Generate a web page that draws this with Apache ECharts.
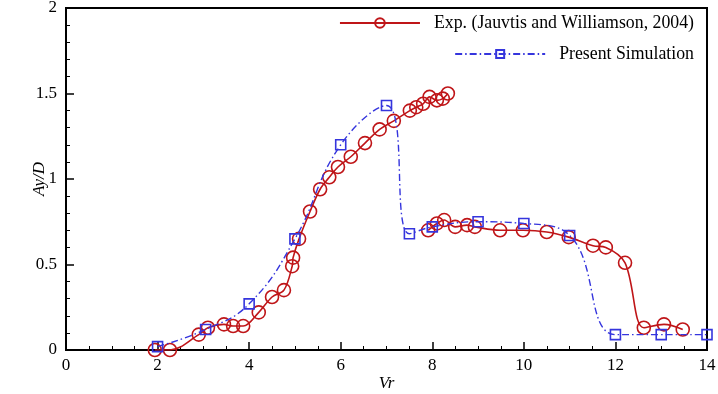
<!DOCTYPE html>
<html>
<head>
<meta charset="utf-8">
<script src="https://cdn.jsdelivr.net/npm/echarts@6/dist/echarts.min.js"></script>
<style>html,body{margin:0;padding:0;background:#fff}#c{width:718px;height:394px}</style>
</head>
<body>
<div id="c"></div>
<script>
// Experimental data (Jauvtis and Williamson, 2004) - upper branch
var expVr1 = [1.94,2.27,2.90,3.10,3.45,3.65,3.87,4.21,4.50,4.76,4.94,4.96,5.09,5.33,5.55,5.75,5.94,6.22,6.53,6.85,7.16,7.51,7.65,7.80,7.94,8.10,8.23,8.34];
var expAy1 = [0.00,0.00,0.09,0.13,0.15,0.14,0.14,0.22,0.31,0.35,0.49,0.54,0.65,0.81,0.94,1.01,1.07,1.13,1.21,1.29,1.34,1.40,1.42,1.44,1.48,1.46,1.47,1.50];
// Experimental data - lower branch
var expVr2 = [7.91,8.10,8.26,8.50,8.76,8.93,9.48,9.98,10.50,10.98,11.51,11.79,12.21,12.62,13.06,13.47];
var expAy2 = [0.70,0.74,0.76,0.72,0.73,0.72,0.70,0.70,0.69,0.66,0.61,0.60,0.51,0.13,0.15,0.12];
// Present simulation
var simVr = [2,3.05,4,5,6,7,7.5,8,9,10,11,12,13,14];
var simAy = [0.02,0.12,0.27,0.65,1.20,1.43,0.68,0.72,0.75,0.74,0.67,0.09,0.09,0.09];
// Axis ticks
var xTicks = [0,2,4,6,8,10,12,14];
var yTicks = [0,0.5,1,1.5,2];

var expName = 'Exp. (Jauvtis and Williamson, 2004)';
var simName = 'Present Simulation';
function zip(a,b){return a.map(function(v,i){return [v,b[i]];});}

var red = '#bf1518';
var blue = '#3535dd';
var font = 'Liberation Serif';

var chart = echarts.init(document.getElementById('c'), null, {renderer:'canvas'});
var expStyle = {
  type:'line', name: expName, smooth:0.35, symbol:'circle', symbolSize:13,
  showSymbol:true,
  itemStyle:{color:'rgba(255,255,255,0)', borderColor:red, borderWidth:1.6},
  lineStyle:{color:red, width:1.6}, z:2
};
chart.setOption({
  animation:false,
  backgroundColor:'#fff',
  grid:{left:66, right:11, top:8, bottom:44, outerBoundsMode:'none', containLabel:false,
        show:true, borderColor:'#000', borderWidth:2, backgroundColor:'transparent'},
  legend:[
    {data:[expName], right:19, top:9, itemWidth:80, itemHeight:12,
     textStyle:{fontFamily:font, fontSize:17.8, color:'#000', padding:[0,0,0,9]}},
    {data:[simName], right:19, top:40, itemWidth:90, itemHeight:10,
     textStyle:{fontFamily:font, fontSize:17.8, color:'#000', padding:[0,0,0,9]}}
  ],
  xAxis:{
    type:'value', min:xTicks[0], max:xTicks[xTicks.length-1], interval:2,
    name:'Vr', nameLocation:'middle', nameGap:25, nameMoveOverlap:false,
    nameTextStyle:{fontFamily:font, fontSize:17, fontStyle:'italic', color:'#000'},
    axisLine:{lineStyle:{color:'#000', width:2}},
    axisTick:{inside:true, length:8, lineStyle:{color:'#000', width:1.5}},
    minorTick:{show:true, splitNumber:4, length:4, lineStyle:{color:'#000', width:1}},
    axisLabel:{fontFamily:font, fontSize:17, color:'#000', margin:7},
    splitLine:{show:false}
  },
  yAxis:{
    type:'value', min:yTicks[0], max:yTicks[yTicks.length-1], interval:0.5,
    name:'Ay/D', nameLocation:'middle', nameGap:18, nameMoveOverlap:false,
    nameTextStyle:{fontFamily:font, fontSize:17, fontStyle:'italic', color:'#000'},
    axisLine:{lineStyle:{color:'#000', width:2}},
    axisTick:{inside:true, length:8, lineStyle:{color:'#000', width:1.5}},
    minorTick:{show:true, splitNumber:5, length:4, lineStyle:{color:'#000', width:1}},
    axisLabel:{fontFamily:font, fontSize:17, color:'#000', margin:9},
    splitLine:{show:false}
  },
  series:[
    Object.assign({}, expStyle, {data: zip(expVr1, expAy1)}),
    Object.assign({}, expStyle, {data: zip(expVr2, expAy2)}),
    {
      type:'line', name: simName, smooth:0.45, symbol:'rect', symbolSize:10,
      itemStyle:{color:'rgba(255,255,255,0)', borderColor:blue, borderWidth:1.6},
      lineStyle:{color:blue, width:1.4, type:[7,3,1.5,3]},
      data: zip(simVr, simAy), z:3
    }
  ]
});
</script>
</body>
</html>
